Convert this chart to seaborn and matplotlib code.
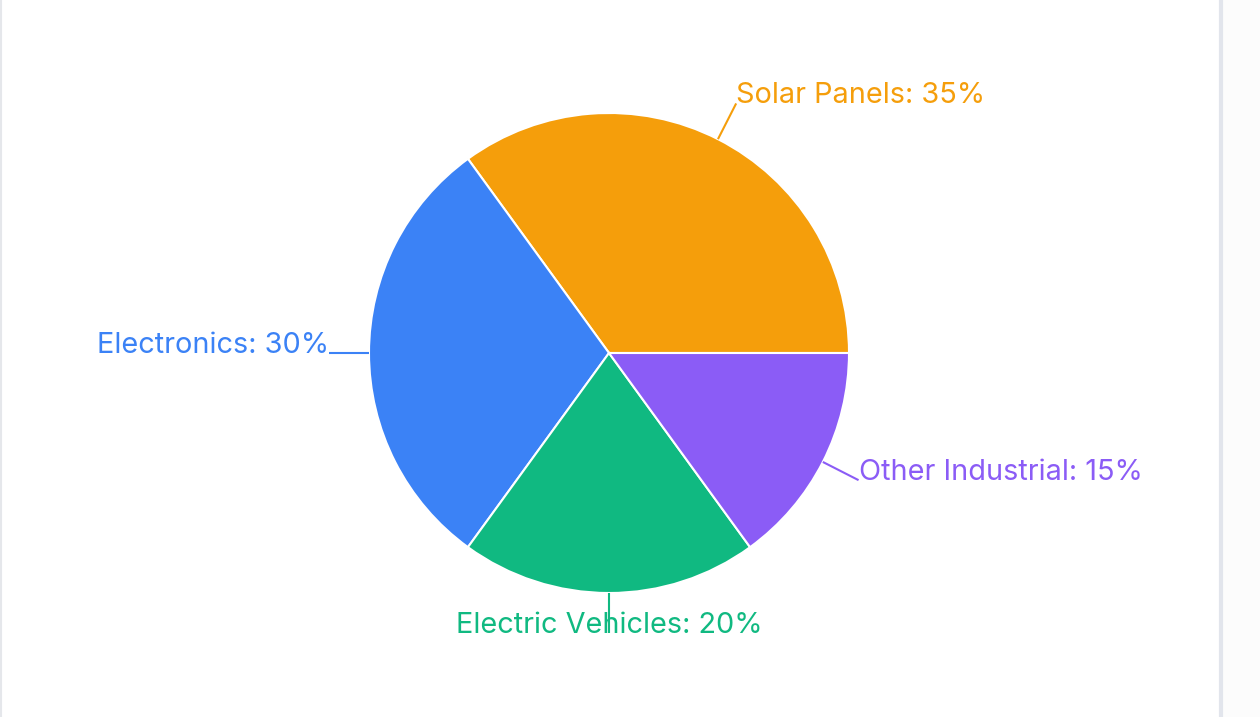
import numpy as np
import matplotlib
matplotlib.use("Agg")
import matplotlib.pyplot as plt
import seaborn as sns

# ---------- DATA ----------
categories = ["Solar Panels", "Electronics", "Electric Vehicles", "Other Industrial"]
shares = [35, 30, 20, 15]
colors = ["#F59E0B", "#3B82F6", "#10B981", "#8B5CF6"]
# --------------------------

sns.set_theme(style="white")
plt.rcParams['font.family'] = ['Inter', 'DejaVu Sans']

W, H = 1260, 717
fig = plt.figure(figsize=(W / 100, H / 100), dpi=100)
ax = fig.add_axes([0, 0, 1, 1])

cx, cy, r = 609, H - 353, 240
wedges, _ = ax.pie(
    shares, colors=colors, startangle=0, counterclock=True,
    center=(cx, cy), radius=r, frame=True,
    wedgeprops=dict(edgecolor="white", linewidth=1.5),
)
ax.set_xlim(0, W)
ax.set_ylim(0, H)
ax.set_aspect("equal")
ax.axis("off")

# labels with leader lines
r_out = r * 1.167
for w, cat, val, col in zip(wedges, categories, shares, colors):
    mid = np.deg2rad((w.theta1 + w.theta2) / 2)
    x0, y0 = cx + r * np.cos(mid), cy + r * np.sin(mid)
    x1, y1 = cx + r_out * np.cos(mid), cy + r_out * np.sin(mid)
    ax.plot([x0, x1], [y0, y1], color=col, lw=1.5, solid_capstyle="butt")
    c = np.cos(mid)
    ha = "left" if c > 0.1 else ("right" if c < -0.1 else "center")
    ax.text(x1, y1, f"{cat}: {val}%", color=col, fontsize=20.8,
            ha=ha, va="baseline")

# card borders
ax.plot([1, 1], [0, H], color="#E5E7EB", lw=1.5)
ax.plot([1221, 1221], [0, H], color="#E2E5EC", lw=3)
ax.axvspan(1223, W, color="#FCFCFC", lw=0)

fig.savefig("out.png", dpi=100)
